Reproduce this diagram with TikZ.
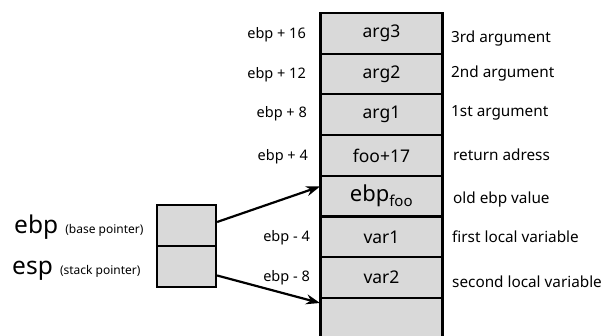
\documentclass[tikz,border=0pt]{standalone}
\usepackage{fontspec}
\setmainfont{Noto Sans}
\usetikzlibrary{arrows.meta}
\begin{document}
\begin{tikzpicture}[x=1pt,y=-1pt,
  cell/.style={draw=black,line width=2.2pt,fill=cellgray,minimum width=122pt,minimum height=40.7pt,inner sep=0pt,font=\fontsize{17.5}{19}\selectfont},
  pcell/.style={draw=black,line width=2.2pt,fill=cellgray,minimum width=59pt,minimum height=41pt,inner sep=0pt},
  offs/.style={anchor=east,inner sep=0pt,font=\fontsize{14.5}{16}\selectfont},
  desc/.style={anchor=west,inner sep=0pt,font=\fontsize{15.3}{17}\selectfont},
  ptr/.style={line width=2.2pt,-{Stealth[length=14pt,width=10pt]}}]
\definecolor{cellgray}{HTML}{D9D9D9}
\useasboundingbox (0,0) rectangle (603,336);
% stack column
\node[cell] (c1) at (381.5,33.35) {arg3};
\node[cell] (c2) at (381.5,74.05) {arg2};
\node[cell] (c3) at (381.5,114.75) {arg1};
\node[cell] (c4) at (381.5,155.45) {foo+17};
\node[cell,font=\fontsize{22}{24}\selectfont] (c5) at (381.5,196.15) {ebp\textsubscript{\fontsize{15}{16}\selectfont foo}};
\node[cell] (c6) at (381.5,236.85) {var1};
\node[cell] (c7) at (381.5,277.55) {var2};
\node[cell] (c8) at (381.5,318.25) {};
% offsets
\node[offs] (o1) at (306,35) {ebp + 16};
\node[offs] (o2) at (306,75) {ebp + 12};
\node[offs] (o3) at (307,114) {ebp + 8};
\node[offs] (o4) at (308,157) {ebp + 4};
\node[offs] (o6) at (310,238) {ebp - 4};
\node[offs] (o7) at (310,278) {ebp - 8};
% descriptions
\node[desc] (d1) at (451,38.5) {3rd argument};
\node[desc] (d2) at (451,73.5) {2nd argument};
\node[desc] (d3) at (451,113) {1st argument};
\node[desc] (d4) at (453,155) {return adress};
\node[desc] (d5) at (453,200) {old ebp value};
\node[desc] (d6) at (452,237) {first local variable};
\node[desc] (d7) at (452,281.5) {second local variable};
% pointer registers
\node[pcell] (p1) at (186.5,225.5) {};
\node[pcell] (p2) at (186.5,266.5) {};
\node[anchor=base west,inner sep=0pt] (l1) at (14,234) {\fontsize{24.5}{26}\selectfont ebp\,\fontsize{12}{13}\selectfont{} (base pointer)};
\node[anchor=base west,inner sep=0pt] (l2) at (12,275) {\fontsize{24.5}{26}\selectfont esp\,\fontsize{12}{13}\selectfont{} (stack pointer)};
% arrows
\coordinate (t1) at (320,186.5);
\coordinate (t2) at (320,303);
\draw[ptr] (p1.east |- 0,222) -- (t1);
\draw[ptr] (p2.east |- 0,275.5) -- (t2);
\end{tikzpicture}
\end{document}
